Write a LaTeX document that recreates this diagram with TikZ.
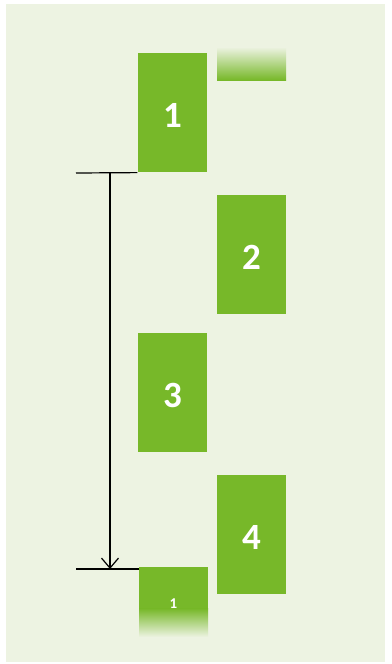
\documentclass[tikz,border=0pt]{standalone}
\usepackage{fontspec}
\setmainfont{Carlito}
\usetikzlibrary{arrows.meta, positioning}
\definecolor{slidebg}{RGB}{237,243,226}
\definecolor{framegreen}{RGB}{119,184,41}

\begin{document}
\begin{tikzpicture}[x=1pt, y=-1pt, line width=1.2pt,
    frame/.style={fill=framegreen, text=white, minimum width=69pt, minimum height=119pt, inner sep=0pt, text height=30pt, text depth=0pt, font=\fontsize{37}{37}\selectfont\bfseries}]
  \useasboundingbox (0,0) rectangle (391,664);
  \fill[slidebg] (6,4) rectangle (385,662);
  % frames
  \node[frame] (b1) at (172.5,112.5) {1};
  \node[frame] (b2) at (251.5,254.5) {2};
  \node[frame] (b3) at (172.5,392.5) {3};
  \node[frame] (b4) at (251.5,534.5) {4};
  \shade[top color=slidebg, bottom color=framegreen] (217,47) rectangle (286,80);
  \fill[framegreen] (139,567) rectangle (208,609);
  \shade[top color=framegreen, bottom color=slidebg] (139,608.5) rectangle (208,637);
  \node[text=white, font=\fontsize{15}{15}\selectfont\bfseries] (b5) at (173.5,604) {1};
  % period marker
  \coordinate (t0) at (110,173);
  \coordinate (t1) at (110,569);
  \draw (76,173) -- (b1.south west);
  \draw (76,569) -- (139,569);
  \draw[-{Straight Barb[length=10pt, width=17pt]}] (t0) -- (t1);
\end{tikzpicture}
\end{document}
